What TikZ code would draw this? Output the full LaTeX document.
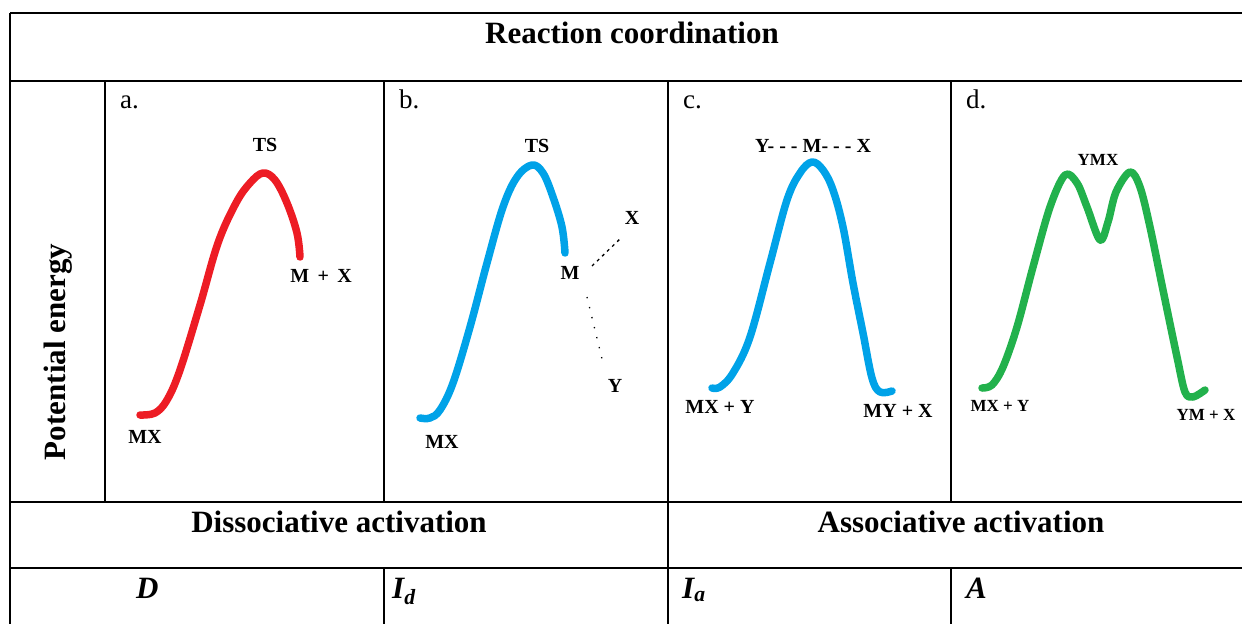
\documentclass[tikz,border=0pt]{standalone}
\usepackage{fontspec}
\setmainfont{Liberation Serif}
\definecolor{paintred}{RGB}{237,28,36}
\definecolor{paintblue}{RGB}{0,162,232}
\definecolor{paintgreen}{RGB}{34,177,76}

\begin{document}
\begin{tikzpicture}[x=1pt,y=-1pt,
  rule/.style={line width=1.6pt},
  curve/.style={line width=7.5pt,line cap=round,line join=round},
  head/.style={font=\fontsize{31}{36}\selectfont\bfseries,inner sep=0pt},
  spec/.style={font=\fontsize{20}{24}\selectfont\bfseries,inner sep=0pt},
  small/.style={font=\fontsize{17}{20}\selectfont\bfseries,inner sep=0pt},
  panel/.style={font=\fontsize{27}{32}\selectfont,anchor=base west,inner sep=0pt},
  mech/.style={font=\fontsize{31}{36}\selectfont\bfseries\itshape,anchor=base west,inner sep=0pt}]
  \useasboundingbox (0,0) rectangle (1242,624);
  % table rules
  \foreach \y in {13,81,502,568} \draw[rule] (10,\y) -- (1242,\y);
  \draw[rule] (10,13) -- (10,624);
  \draw[rule] (105,81) -- (105,502);
  \draw[rule] (668,81) -- (668,624);
  \foreach \x in {384,951} {\draw[rule] (\x,81) -- (\x,502); \draw[rule] (\x,568) -- (\x,624);}
  % headings
  \node[head] (coord) at (632,33) {Reaction coordination};
  \node[head,rotate=90] (energy) at (58,352) {Potential energy};
  \node[head] (diss) at (339,522) {Dissociative activation};
  \node[head] (assoc) at (961,522) {Associative activation};
  \node[mech] (mD) at (136,598) {D};
  \node[mech] (mId) at (392,598) {I\textsubscript{d}};
  \node[mech] (mIa) at (682,598) {I\textsubscript{a}};
  \node[mech] (mA) at (966,598) {A};
  \foreach \l/\x in {a/120,b/399,c/683,d/966} \node[panel] (p\l) at (\x,108) {\l.};
  % (a) D
  \draw[curve,paintred] plot[smooth,tension=0.6] coordinates {(140,415) (155,413) (167,400) (180,370) (200,305) (218,243) (236,203) (250,183) (263,173) (275,180) (287,203) (297,233) (300,257)};
  \node[spec] (aTS) at (265,145) {TS};
  \node[spec] (aMX) at (321,276) {M \,+\, X};
  \node[spec] (aR) at (145,437) {MX};
  % (b) Id
  \draw[curve,paintblue] plot[smooth,tension=0.6] coordinates {(420,418) (430,418) (440,410) (453,383) (470,327) (487,263) (503,207) (517,177) (532,165) (543,173) (553,197) (562,227) (565,253)};
  \node[spec] (bTS) at (537,146) {TS};
  \node[spec] (bM) at (570,273) {M};
  \node[spec] (bX) at (632,218) {X};
  \node[spec] (bY) at (615,386) {Y};
  \node[spec] (bR) at (442,442) {MX};
  \coordinate (bMx) at (592,266); \coordinate (bXe) at (622,237);
  \coordinate (bMy) at (587,297); \coordinate (bYe) at (603,363);
  \draw[line width=1.3pt,dash pattern=on 3pt off 4pt] (bMx) -- (bXe);
  \draw[line width=1.3pt,dash pattern=on 1.3pt off 9pt] (bMy) -- (bYe);
  % (c) Ia
  \draw[curve,paintblue] plot[smooth,tension=0.6] coordinates {(712,388) (720,387) (733,373) (750,337) (770,263) (787,200) (800,173) (812,162) (823,170) (833,190) (843,227) (853,283) (863,333) (872,378) (880,392) (892,391)};
  \node[spec] (cTS) at (813,146) {Y- - - M- - - X};
  \node[spec] (cR) at (720,407) {MX + Y};
  \node[spec] (cP) at (898,411) {MY + X};
  % (d) A
  \draw[curve,paintgreen] plot[smooth,tension=0.55] coordinates {(982,388) (992,385) (1003,367) (1017,327) (1033,267) (1050,207) (1065,175) (1077,183) (1087,207) (1100,240) (1108,222) (1116,192) (1130,172) (1140,187) (1150,227) (1163,290) (1177,357) (1185,392) (1193,397) (1205,390)};
  \node[small] (dI) at (1098,160) {YMX};
  \node[small] (dR) at (1000,406) {MX + Y};
  \node[small] (dP) at (1206,415) {YM + X};
\end{tikzpicture}
\end{document}
